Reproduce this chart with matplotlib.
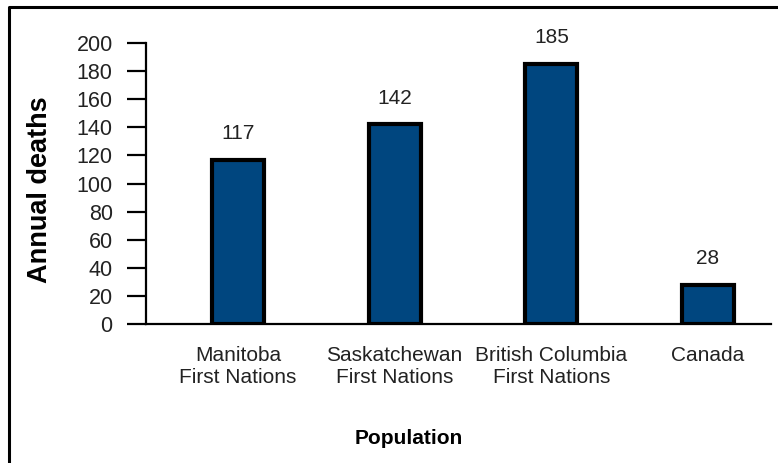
import matplotlib
matplotlib.use("Agg")
import matplotlib.pyplot as plt
from matplotlib.lines import Line2D
import numpy as np

plt.rcParams['font.family'] = ['Liberation Sans', 'DejaVu Sans']

# Data
populations = ["Manitoba\nFirst Nations", "Saskatchewan\nFirst Nations",
               "British Columbia\nFirst Nations", "Canada"]
annual_deaths = [117, 142, 185, 28]
y_ticks = [0, 20, 40, 60, 80, 100, 120, 140, 160, 180, 200]

W, H = 778, 463
fig = plt.figure(figsize=(W / 100, H / 100), dpi=100)
fig.patch.set_facecolor("white")

ax = fig.add_axes([146 / W, 1 - 324 / H, 625 / W, (324 - 43) / H])

x = np.arange(len(populations))
bars = ax.bar(x, annual_deaths, width=0.33, color="#00467F",
              edgecolor="black", linewidth=3, zorder=3)

for xi, v in zip(x, annual_deaths):
    ax.annotate(str(v), xy=(xi, v), xytext=(0, 15), textcoords="offset points",
                ha="center", va="baseline", fontsize=15, color="#222222")

ax.set_xlim(-0.587, 3.402)
ax.set_ylim(0, 200)
ax.set_yticks(y_ticks)
ax.set_yticklabels([str(t) for t in y_ticks], fontsize=15.5, color="#222222")
ax.set_xticks(x)
ax.set_xticklabels(populations, fontsize=15, color="#222222", linespacing=1.2)

ax.tick_params(axis="y", direction="out", length=14, width=1.6, pad=10)
ax.tick_params(axis="x", length=0, pad=16)

for side in ("top", "right"):
    ax.spines[side].set_visible(False)
for side in ("left", "bottom"):
    ax.spines[side].set_linewidth(1.6)
    ax.spines[side].set_color("black")

fig.text(409 / W, 1 - 438 / H, "Population", ha="center", va="center",
         fontsize=15, fontweight="bold")
fig.text(40 / W, 1 - 190 / H, "Annual deaths", ha="center", va="center",
         rotation=90, fontsize=19.5, fontweight="bold")

# Outer frame (left and top edges)
fig.add_artist(Line2D([8.5 / W, 8.5 / W, 1.01], [-0.01, 1 - 7 / H, 1 - 7 / H],
                      transform=fig.transFigure, color="black", linewidth=2.2))

fig.savefig("out.png", dpi=100)
